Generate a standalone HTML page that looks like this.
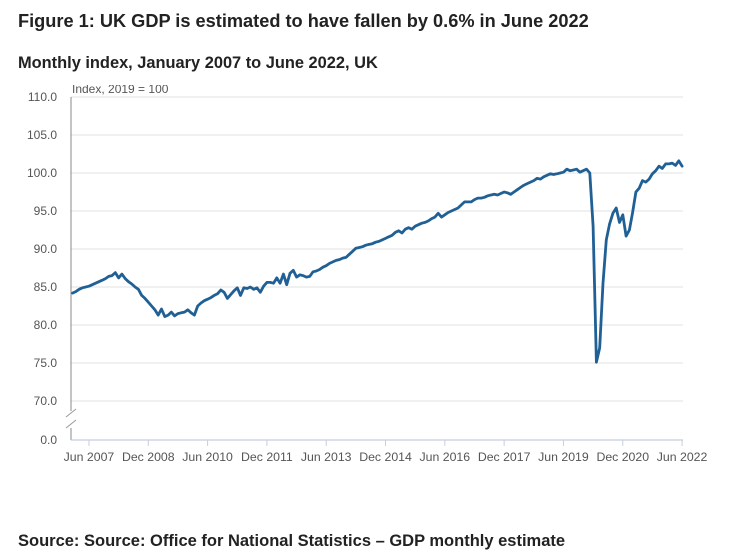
<!DOCTYPE html>
<html><head><meta charset="utf-8"><style>
body{margin:0;background:#fff;font-family:"Liberation Sans",sans-serif;}
svg{display:block}
</style></head><body>
<svg width="731" height="557" viewBox="0 0 731 557">
<text x="18" y="27" font-size="18.2" font-weight="bold" fill="#222">Figure 1: UK GDP is estimated to have fallen by 0.6% in June 2022</text>
<text x="18" y="68" font-size="16.4" font-weight="bold" fill="#222">Monthly index, January 2007 to June 2022, UK</text>
<text x="18" y="546" font-size="16.5" font-weight="bold" fill="#222">Source: Source: Office for National Statistics – GDP monthly estimate</text>
<svg x="0" y="85" width="731" height="20" overflow="hidden"><text x="72" y="8" font-size="12" fill="#555">Index, 2019 = 100</text></svg>
<g id="grid"></g>
<g id="axes"></g>
<g id="plot"></g>
</svg>
<script>
const yTicks=[110,105,100,95,90,85,80,75,70];
const xTickMonths=[5,23,41,59,77,95,113,131,149,167,185];
const xTickLabels=["Jun 2007","Dec 2008","Jun 2010","Dec 2011","Jun 2013","Dec 2014","Jun 2016","Dec 2017","Jun 2019","Dec 2020","Jun 2022"];
const gdp=[84.2,84.4,84.7,84.9,85.0,85.1,85.3,85.5,85.7,85.9,86.1,86.4,86.5,86.9,86.2,86.7,86.1,85.7,85.4,85.0,84.7,83.9,83.5,83.0,82.5,82.0,81.3,82.1,81.1,81.3,81.7,81.2,81.5,81.6,81.7,82.0,81.6,81.3,82.5,82.9,83.2,83.4,83.6,83.9,84.1,84.6,84.3,83.5,
84.0,84.5,84.9,83.9,84.9,84.8,85.0,84.7,84.9,84.3,85.1,85.6,85.6,85.5,86.2,85.5,86.7,85.3,86.8,87.2,86.3,86.6,86.5,86.3,86.4,87.0,87.1,87.3,87.6,87.8,88.1,88.3,88.5,88.6,88.8,88.9,89.3,89.7,90.1,90.2,90.3,90.5,90.6,90.7,90.9,91.0,91.2,
91.4,91.6,91.8,92.2,92.4,92.1,92.6,92.8,92.6,93.0,93.2,93.4,93.5,93.7,94.0,94.2,94.7,94.2,94.5,94.8,95.0,95.2,95.4,95.8,96.2,96.2,96.2,96.5,96.7,96.7,96.8,97.0,97.1,97.2,97.1,97.3,97.5,97.4,97.2,97.5,97.8,98.1,98.4,98.6,98.8,99.0,99.3,99.2,99.5,99.7,
99.9,99.8,99.9,100.0,100.1,100.5,100.3,100.4,100.5,100.1,100.3,100.5,100.0,93.0,75.1,77.0,85.5,91.2,93.3,94.7,95.4,93.5,94.5,91.7,92.5,94.8,97.5,98.0,99.0,98.8,99.2,99.9,100.3,100.9,100.6,101.2,101.2,101.3,101.0,101.6,100.9];
const NS="http://www.w3.org/2000/svg";
const X=m=>72.5+m*3.295;
const Y=v=>v<=0?440:401-(v-70)*7.6;
function mk(t,a,p){const e=document.createElementNS(NS,t);for(const k in a)e.setAttribute(k,a[k]);p.appendChild(e);return e;}
const grid=document.getElementById('grid'),axes=document.getElementById('axes'),plot=document.getElementById('plot');
yTicks.forEach(v=>{
  const l=mk('line',{x1:71,x2:683,y1:Y(v),y2:Y(v),stroke:'#e2e2e2','stroke-width':1},grid);
  
  
  const t=mk('text',{x:57,y:Y(v)+4,'text-anchor':'end','font-size':12,fill:'#555'},axes);
  t.textContent=v.toFixed(1);
  
  
});
const z=mk('text',{x:57,y:444,'text-anchor':'end','font-size':12,fill:'#555'},axes);
z.textContent='0.0';


const ya=mk('line',{x1:71,x2:71,y1:97,y2:440,stroke:'#888','stroke-width':1},axes);


const br=mk('rect',{x:66,y:411,width:10,height:17,fill:'#fff'},axes);


[[66,417,76,409],[66,428,76,420]].forEach(c=>{
  const b=mk('line',{x1:c[0],y1:c[1],x2:c[2],y2:c[3],stroke:'#999','stroke-width':1},axes);
  
  
});
const xa=mk('line',{x1:71,x2:683,y1:440,y2:440,stroke:'#c5cfdd','stroke-width':1.2},axes);


xTickMonths.forEach((m,i)=>{
  const tk=mk('line',{x1:X(m),x2:X(m),y1:440,y2:446,stroke:'#c5cfdd','stroke-width':1},axes);
  
  
  const t=mk('text',{x:X(m),y:461,'text-anchor':'middle','font-size':12.3,fill:'#555'},axes);
  t.textContent=xTickLabels[i];
  
  
});
const p=mk('polyline',{points:gdp.map((v,i)=>X(i).toFixed(1)+','+Y(v).toFixed(1)).join(' '),fill:'none',stroke:'#206095','stroke-width':2.8,'stroke-linejoin':'round','stroke-linecap':'round'},plot);


</script>
</body></html>
